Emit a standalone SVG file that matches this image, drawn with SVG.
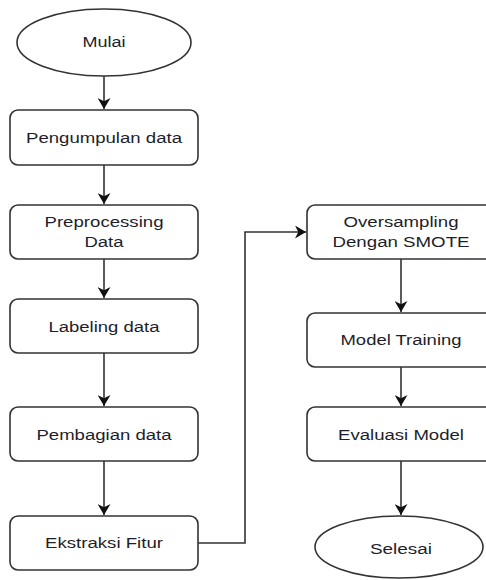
<svg xmlns="http://www.w3.org/2000/svg" width="486" height="580" viewBox="0 0 486 580">
<defs>
<style>
.box{fill:#fff;stroke:#333;stroke-width:1.6}
.t{font-family:"Liberation Sans",Arial,sans-serif;font-size:15.5px;fill:#1e1e2a;text-anchor:middle}
.c{fill:none;stroke:#333;stroke-width:1.6}
</style>
<marker id="ah" viewBox="0 0 10 10" refX="10" refY="5" markerWidth="11" markerHeight="13" markerUnits="userSpaceOnUse" orient="auto" preserveAspectRatio="none">
<path d="M0,0 L10,5 L0,10 L3,5 z" fill="#111"/>
</marker>
</defs>
<rect width="486" height="580" fill="#fff"/>
<g id="connectors">
<path class="c" d="M104,76 V109" marker-end="url(#ah)"/>
<path class="c" d="M104,165 V204" marker-end="url(#ah)"/>
<path class="c" d="M104,259 V298" marker-end="url(#ah)"/>
<path class="c" d="M104,353 V406" marker-end="url(#ah)"/>
<path class="c" d="M104,461 V515" marker-end="url(#ah)"/>
<path class="c" d="M198,543 H245 V232 H306" marker-end="url(#ah)"/>
<path class="c" d="M401,259 V312" marker-end="url(#ah)"/>
<path class="c" d="M401,367 V406" marker-end="url(#ah)"/>
<path class="c" d="M401,461 V515" marker-end="url(#ah)"/>
</g>
<g id="mulai">
<ellipse class="box" cx="104" cy="42.5" rx="87" ry="33.5"/>
<text class="t" x="104" y="47" textLength="43" lengthAdjust="spacingAndGlyphs">Mulai</text>
</g>
<g id="pengumpulan">
<rect class="box" x="10" y="110" width="188" height="55" rx="8"/>
<text class="t" x="104" y="143" textLength="156" lengthAdjust="spacingAndGlyphs">Pengumpulan data</text>
</g>
<g id="preprocessing">
<rect class="box" x="10" y="205" width="188" height="54" rx="8"/>
<text class="t" x="104" y="227" textLength="119" lengthAdjust="spacingAndGlyphs">Preprocessing</text>
<text class="t" x="104" y="247" textLength="39" lengthAdjust="spacingAndGlyphs">Data</text>
</g>
<g id="labeling">
<rect class="box" x="10" y="299" width="188" height="54" rx="8"/>
<text class="t" x="104" y="332" textLength="111" lengthAdjust="spacingAndGlyphs">Labeling data</text>
</g>
<g id="pembagian">
<rect class="box" x="10" y="407" width="188" height="54" rx="8"/>
<text class="t" x="104" y="440" textLength="135" lengthAdjust="spacingAndGlyphs">Pembagian data</text>
</g>
<g id="ekstraksi">
<rect class="box" x="10" y="516" width="188" height="54" rx="8"/>
<text class="t" x="104" y="548" textLength="118" lengthAdjust="spacingAndGlyphs">Ekstraksi Fitur</text>
</g>
<g id="oversampling">
<rect class="box" x="307" y="205" width="188" height="54" rx="8"/>
<text class="t" x="401" y="227" textLength="115" lengthAdjust="spacingAndGlyphs">Oversampling</text>
<text class="t" x="401" y="247" textLength="137" lengthAdjust="spacingAndGlyphs">Dengan SMOTE</text>
</g>
<g id="training">
<rect class="box" x="307" y="313" width="188" height="54" rx="8"/>
<text class="t" x="401" y="345" textLength="121" lengthAdjust="spacingAndGlyphs">Model Training</text>
</g>
<g id="evaluasi">
<rect class="box" x="307" y="407" width="188" height="54" rx="8"/>
<text class="t" x="401" y="440" textLength="126" lengthAdjust="spacingAndGlyphs">Evaluasi Model</text>
</g>
<g id="selesai">
<ellipse class="box" cx="399" cy="547" rx="84" ry="31"/>
<text class="t" x="401" y="554" textLength="62" lengthAdjust="spacingAndGlyphs">Selesai</text>
</g>
</svg>
